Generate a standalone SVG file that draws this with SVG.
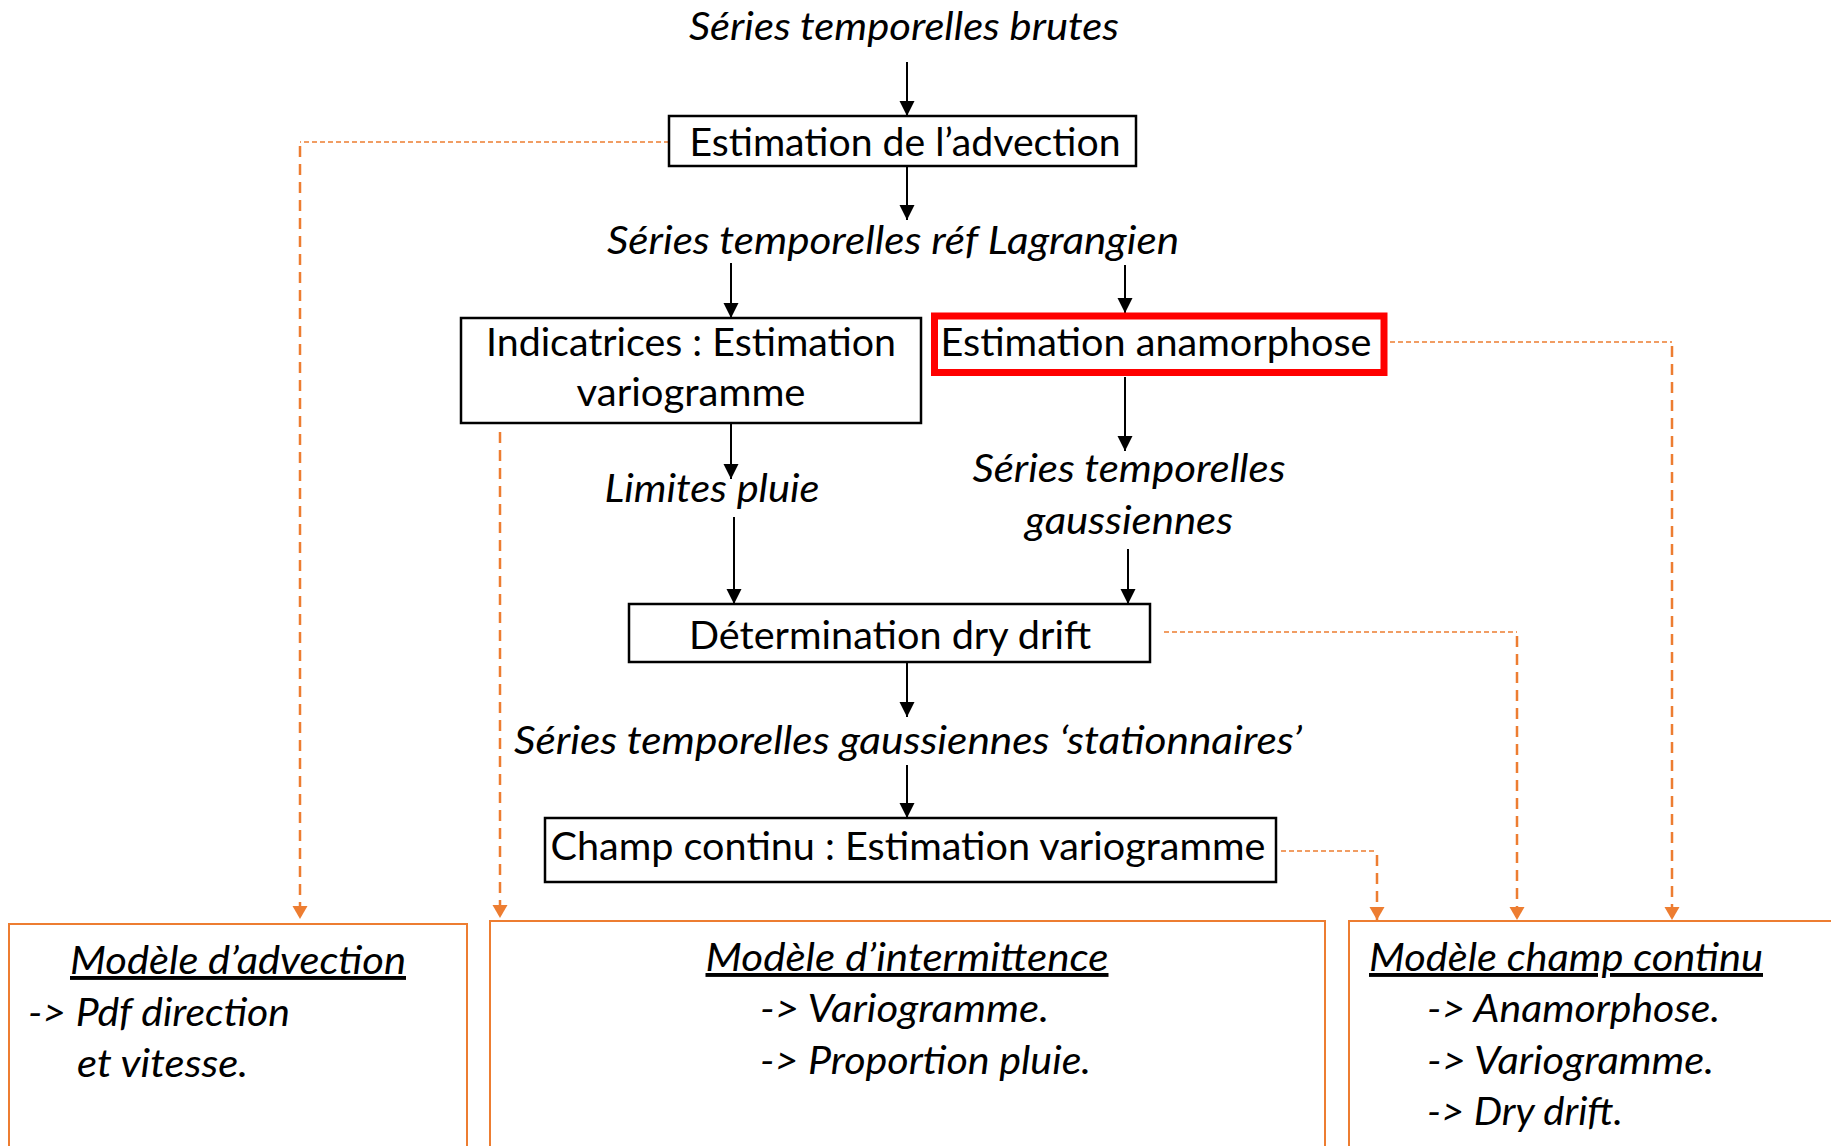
<svg xmlns="http://www.w3.org/2000/svg" width="1831" height="1146" viewBox="0 0 1831 1146">
<style>
text{font-family:Lato,"Open Sans","Liberation Sans",sans-serif;font-size:39px;fill:#000}
.i{font-style:italic}
.m{text-anchor:middle}
.u{text-decoration:underline}
.box{fill:#fff;stroke:#000;stroke-width:2.5}
.obox{fill:#fff;stroke:#ED7D31;stroke-width:2}
.arr{stroke:#000;stroke-width:2;fill:none}
.oh{stroke:#ED7D31;stroke-width:1.5;fill:none;stroke-dasharray:5 3}
.ov{stroke:#ED7D31;stroke-width:2.5;fill:none;stroke-dasharray:11 7}
</style>
<defs>
<marker id="ab" markerUnits="userSpaceOnUse" markerWidth="16" markerHeight="16" viewBox="0 0 16 16" refX="15" refY="8" orient="auto">
<path d="M0,0.5 L15,8 L0,15.5 Z" fill="#000"/>
</marker>
<marker id="ao" markerUnits="userSpaceOnUse" markerWidth="14" markerHeight="16" viewBox="0 0 14 16" refX="13" refY="8" orient="auto">
<path d="M0,0.5 L13,8 L0,15.5 Z" fill="#ED7D31"/>
</marker>
</defs>

<g id="connectors">
<line class="arr" x1="907" y1="62" x2="907" y2="116" marker-end="url(#ab)"/>
<line class="arr" x1="907" y1="166" x2="907" y2="220" marker-end="url(#ab)"/>
<line class="arr" x1="731" y1="263" x2="731" y2="318" marker-end="url(#ab)"/>
<line class="arr" x1="1125" y1="265" x2="1125" y2="313" marker-end="url(#ab)"/>
<line class="arr" x1="1125" y1="377" x2="1125" y2="451" marker-end="url(#ab)"/>
<line class="arr" x1="731" y1="423" x2="731" y2="479" marker-end="url(#ab)"/>
<line class="arr" x1="734" y1="517" x2="734" y2="604" marker-end="url(#ab)"/>
<line class="arr" x1="1128" y1="549" x2="1128" y2="604" marker-end="url(#ab)"/>
<line class="arr" x1="907" y1="662" x2="907" y2="717" marker-end="url(#ab)"/>
<line class="arr" x1="907" y1="765" x2="907" y2="818" marker-end="url(#ab)"/>

<line class="oh" x1="669" y1="142" x2="300" y2="142"/>
<line class="ov" x1="300" y1="146" x2="300" y2="919" marker-end="url(#ao)"/>
<line class="ov" x1="500" y1="432" x2="500" y2="918" marker-end="url(#ao)"/>
<line class="oh" x1="1390" y1="342" x2="1672" y2="342"/>
<line class="ov" x1="1672" y1="346" x2="1672" y2="920" marker-end="url(#ao)"/>
<line class="oh" x1="1164" y1="632" x2="1517" y2="632"/>
<line class="ov" x1="1517" y1="636" x2="1517" y2="920" marker-end="url(#ao)"/>
<line class="oh" x1="1281" y1="851" x2="1377" y2="851"/>
<line class="ov" x1="1377" y1="855" x2="1377" y2="920" marker-end="url(#ao)"/>
</g>

<g id="t-brutes"><text class="i m" x="904" y="40" textLength="430" lengthAdjust="spacingAndGlyphs">Séries temporelles brutes</text></g>

<g id="n-advection">
<rect class="box" x="669" y="116" width="467" height="50"/>
<text class="m" x="905" y="156" textLength="431" lengthAdjust="spacingAndGlyphs">Estimation de l’advection</text>
</g>

<g id="t-lagrangien"><text class="i m" x="893" y="254" textLength="572" lengthAdjust="spacingAndGlyphs">Séries temporelles réf Lagrangien</text></g>

<g id="n-indicatrices">
<rect class="box" x="461" y="318" width="460" height="105"/>
<text class="m" x="691" y="356" textLength="410" lengthAdjust="spacingAndGlyphs">Indicatrices : Estimation</text>
<text class="m" x="691" y="406" textLength="229" lengthAdjust="spacingAndGlyphs">variogramme</text>
</g>

<g id="n-anamorphose">
<rect x="934.5" y="316" width="449.5" height="56.5" fill="#fff" stroke="#FF0000" stroke-width="7"/>
<text class="m" x="1156" y="356" textLength="431" lengthAdjust="spacingAndGlyphs">Estimation anamorphose</text>
</g>

<g id="t-limites"><text class="i m" x="712" y="502" textLength="215" lengthAdjust="spacingAndGlyphs">Limites pluie</text></g>

<g id="t-gaussiennes">
<text class="i m" x="1129" y="482" textLength="313" lengthAdjust="spacingAndGlyphs">Séries temporelles</text>
<text class="i m" x="1129" y="534" textLength="208" lengthAdjust="spacingAndGlyphs">gaussiennes</text>
</g>

<g id="n-drydrift">
<rect class="box" x="629" y="604" width="521" height="58"/>
<text class="m" x="890" y="649" textLength="402" lengthAdjust="spacingAndGlyphs">Détermination dry drift</text>
</g>

<g id="t-stationnaires"><text class="i m" x="908" y="754" textLength="788" lengthAdjust="spacingAndGlyphs">Séries temporelles gaussiennes ‘stationnaires’</text></g>

<g id="n-champ">
<rect class="box" x="545" y="818" width="731" height="64"/>
<text class="m" x="908" y="860" textLength="715" lengthAdjust="spacingAndGlyphs">Champ continu : Estimation variogramme</text>
</g>

<g id="m-advection">
<rect class="obox" x="9" y="924" width="458" height="240"/>
<text class="i m u" x="238" y="974" textLength="336" lengthAdjust="spacingAndGlyphs">Modèle d’advection</text>
<text class="i" x="28" y="1026" textLength="262" lengthAdjust="spacingAndGlyphs">-&gt; Pdf direction</text>
<text class="i" x="77" y="1077" textLength="171" lengthAdjust="spacingAndGlyphs">et vitesse.</text>
</g>

<g id="m-intermittence">
<rect class="obox" x="490" y="921" width="835" height="240"/>
<text class="i m u" x="907" y="971" textLength="403" lengthAdjust="spacingAndGlyphs">Modèle d’intermittence</text>
<text class="i" x="760" y="1022" textLength="289" lengthAdjust="spacingAndGlyphs">-&gt; Variogramme.</text>
<text class="i" x="760" y="1074" textLength="331" lengthAdjust="spacingAndGlyphs">-&gt; Proportion pluie.</text>
</g>

<g id="m-champ">
<rect class="obox" x="1349" y="921" width="500" height="240"/>
<text class="i m u" x="1566" y="971" textLength="394" lengthAdjust="spacingAndGlyphs">Modèle champ continu</text>
<text class="i" x="1427" y="1022" textLength="293" lengthAdjust="spacingAndGlyphs">-&gt; Anamorphose.</text>
<text class="i" x="1427" y="1074" textLength="287" lengthAdjust="spacingAndGlyphs">-&gt; Variogramme.</text>
<text class="i" x="1427" y="1125" textLength="196" lengthAdjust="spacingAndGlyphs">-&gt; Dry drift.</text>
</g>
</svg>
